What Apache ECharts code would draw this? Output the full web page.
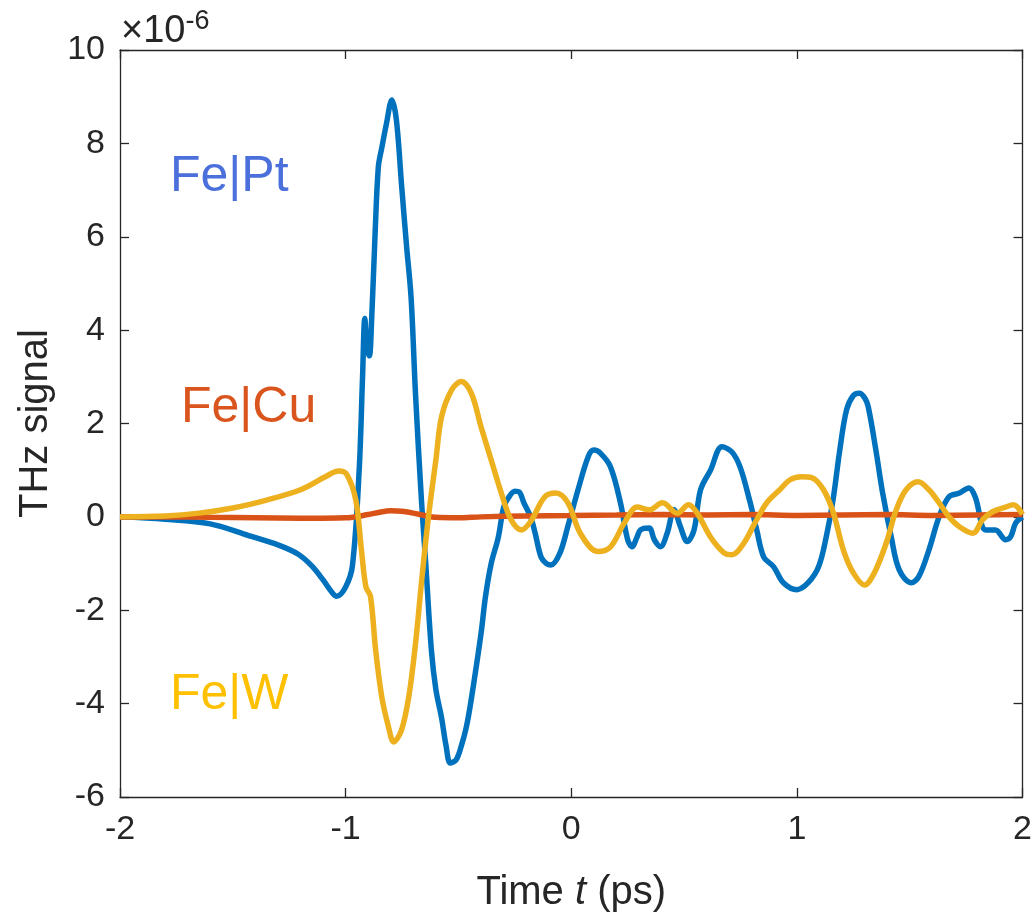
<!DOCTYPE html>
<html>
<head>
<meta charset="utf-8">
<script src="https://cdn.jsdelivr.net/npm/echarts@6/dist/echarts.min.js"></script>
<style>
  html, body { margin: 0; padding: 0; background: #fff; }
  #main { width: 1035px; height: 921px; }
</style>
</head>
<body>
<div id="main"></div>
<script>
// Fe|Pt (blue)
var ptTime = [-2.0, -1.8, -1.6, -1.43, -1.3, -1.21, -1.15, -1.1, -1.06, -1.04, -1.0, -0.97, -0.94, -0.925, -0.915, -0.905, -0.895, -0.885, -0.87, -0.855, -0.84, -0.82, -0.795, -0.775, -0.752, -0.73, -0.71, -0.69, -0.664, -0.645, -0.62, -0.6, -0.575, -0.555, -0.536, -0.51, -0.487, -0.465, -0.443, -0.4, -0.38, -0.355, -0.324, -0.3, -0.28, -0.25, -0.23, -0.21, -0.18, -0.16, -0.134, -0.11, -0.09, -0.05, -0.015, 0.03, 0.075, 0.1, 0.13, 0.174, 0.218, 0.25, 0.27, 0.29, 0.307, 0.345, 0.368, 0.395, 0.425, 0.455, 0.483, 0.514, 0.544, 0.573, 0.617, 0.668, 0.712, 0.748, 0.79, 0.822, 0.853, 0.897, 0.94, 1.0, 1.05, 1.096, 1.13, 1.16, 1.19, 1.22, 1.25, 1.277, 1.3, 1.316, 1.35, 1.38, 1.418, 1.453, 1.506, 1.54, 1.585, 1.63, 1.674, 1.72, 1.763, 1.79, 1.837, 1.88, 1.925, 1.947, 1.97, 2.0];
var ptSignal = [0, -0.05, -0.15, -0.4, -0.6, -0.8, -1.05, -1.35, -1.62, -1.7, -1.5, -1.05, 1.0, 3.0, 4.25, 3.6, 3.45, 4.2, 6.0, 7.5, 7.9, 8.4, 8.93, 8.5, 7.1, 5.8, 4.7, 2.6, 0.36, -1.0, -2.85, -3.7, -4.3, -4.9, -5.27, -5.2, -4.9, -4.5, -3.9, -2.5, -1.7, -1.0, -0.45, 0.2, 0.4, 0.55, 0.53, 0.3, 0.0, -0.35, -0.86, -1.0, -1.03, -0.77, -0.2, 0.58, 1.29, 1.43, 1.36, 1.07, 0.3, -0.49, -0.64, -0.45, -0.28, -0.24, -0.49, -0.64, -0.35, 0.15, -0.2, -0.53, -0.28, 0.58, 1.0, 1.5, 1.39, 1.07, 0.36, -0.28, -0.86, -1.07, -1.41, -1.56, -1.41, -1.07, -0.43, 0.36, 1.43, 2.29, 2.6, 2.65, 2.55, 2.36, 1.43, 0.51, -0.43, -1.13, -1.41, -1.28, -0.71, 0.0, 0.43, 0.51, 0.62, 0.43, -0.28, -0.28, -0.49, -0.43, -0.13, 0.0];

// Fe|Cu (orange)
var cuTime = [-2, -1.8, -1.6, -1.4, -1.2, -1.0, -0.9, -0.85, -0.8, -0.75, -0.7, -0.65, -0.6, -0.5, -0.4, -0.2, 0, 0.2, 0.4, 0.6, 0.8, 1.0, 1.2, 1.4, 1.6, 1.8, 2.0];
var cuSignal = [0, 0.0, -0.01, -0.02, -0.03, -0.02, 0.05, 0.1, 0.13, 0.12, 0.08, 0.03, -0.01, -0.02, 0.0, 0.02, 0.03, 0.04, 0.05, 0.04, 0.05, 0.03, 0.04, 0.05, 0.03, 0.04, 0.05];

// Fe|W (yellow)
var wTime = [-2.0, -1.8, -1.65, -1.5, -1.35, -1.2, -1.09, -1.03, -0.994, -0.955, -0.93, -0.91, -0.89, -0.867, -0.84, -0.81, -0.787, -0.752, -0.72, -0.69, -0.664, -0.633, -0.6, -0.575, -0.53, -0.487, -0.443, -0.4, -0.355, -0.31, -0.267, -0.22, -0.18, -0.117, -0.068, -0.015, 0.04, 0.117, 0.174, 0.235, 0.293, 0.345, 0.404, 0.47, 0.52, 0.558, 0.617, 0.677, 0.712, 0.765, 0.814, 0.866, 0.924, 0.968, 1.02, 1.065, 1.118, 1.162, 1.206, 1.25, 1.3, 1.343, 1.396, 1.44, 1.484, 1.537, 1.585, 1.63, 1.674, 1.72, 1.78, 1.823, 1.867, 1.925, 1.96, 2.0];
var wSignal = [0, 0.02, 0.08, 0.19, 0.36, 0.58, 0.86, 0.98, 0.9, 0.36, -0.71, -1.5, -1.7, -2.85, -3.85, -4.5, -4.82, -4.56, -3.85, -2.7, -1.41, 0, 1.22, 2.14, 2.72, 2.9, 2.65, 1.93, 1.22, 0.51, -0.06, -0.28, -0.1, 0.43, 0.51, 0.3, -0.35, -0.74, -0.64, -0.13, 0.21, 0.15, 0.3, 0.08, 0.26, 0.08, -0.43, -0.77, -0.81, -0.56, -0.13, 0.3, 0.58, 0.79, 0.86, 0.84, 0.58, 0.08, -0.71, -1.2, -1.46, -1.2, -0.56, 0.15, 0.58, 0.75, 0.58, 0.3, 0, -0.21, -0.35, -0.06, 0.11, 0.21, 0.26, 0.05];

function pairs(xs, ys) {
  var out = [];
  for (var i = 0; i < xs.length; i++) out.push([xs[i], ys[i]]);
  return out;
}

var font = 'Arial, "Liberation Sans", sans-serif';
var axisColor = '#262626';

var myChart = echarts.init(document.getElementById('main'));

var boxAxis = {
  axisLine: { show: true, onZero: false, lineStyle: { color: axisColor, width: 1.3 } },
  axisTick: { show: true, inside: true, length: 9, lineStyle: { color: axisColor, width: 1.3 } },
  splitLine: { show: false }
};

var option = {
  animation: false,
  grid: { left: 120, right: 8, top: 50, bottom: 124 },
  xAxis: [
    Object.assign({
      type: 'value', min: -2, max: 2, interval: 1, position: 'bottom',
      axisLabel: { color: axisColor, fontSize: 34, fontFamily: font, margin: 16 },
      name: 'Time {i|t} (ps)', nameLocation: 'middle', nameGap: 76,
      nameTextStyle: {
        color: axisColor, fontSize: 40, fontFamily: font,
        rich: { i: { fontStyle: 'italic', fontSize: 40, fontFamily: font, color: axisColor } }
      }
    }, boxAxis),
    Object.assign({
      type: 'value', min: -2, max: 2, interval: 1, position: 'top',
      axisLabel: { show: false }
    }, boxAxis)
  ],
  yAxis: [
    Object.assign({
      type: 'value', min: -6, max: 10, interval: 2, position: 'left',
      axisLabel: { color: axisColor, fontSize: 34, fontFamily: font, margin: 15 },
      name: 'THz signal', nameLocation: 'middle', nameGap: 64,
      nameTextStyle: { color: axisColor, fontSize: 40, fontFamily: font }
    }, boxAxis),
    Object.assign({
      type: 'value', min: -6, max: 10, interval: 2, position: 'right',
      axisLabel: { show: false }
    }, boxAxis)
  ],
  graphic: [
    {
      type: 'text', left: 121, top: 8,
      style: {
        text: '×10{s|-6}', fill: axisColor, font: '38px ' + font,
        rich: { s: { fontSize: 27, fontFamily: font, fill: axisColor, verticalAlign: 'top', padding: [0, 0, 20, 0] } }
      }
    },
    { type: 'text', left: 170, top: 152, style: { text: 'Fe|Pt', fill: '#4B6FDB', font: '50px ' + font } },
    { type: 'text', left: 181, top: 383, style: { text: 'Fe|Cu', fill: '#DA541D', font: '50px ' + font } },
    { type: 'text', left: 170, top: 670, style: { text: 'Fe|W', fill: '#FFC000', font: '50px ' + font } }
  ],
  series: [
    {
      name: 'Fe|Pt', type: 'line', data: pairs(ptTime, ptSignal), smooth: 0.35,
      showSymbol: false, lineStyle: { color: '#0072BD', width: 5.5 }, z: 2
    },
    {
      name: 'Fe|Cu', type: 'line', data: pairs(cuTime, cuSignal), smooth: 0.3,
      showSymbol: false, lineStyle: { color: '#D95319', width: 5.5 }, z: 3
    },
    {
      name: 'Fe|W', type: 'line', data: pairs(wTime, wSignal), smooth: 0.35,
      showSymbol: false, lineStyle: { color: '#EDB120', width: 5.5 }, z: 4
    }
  ]
};

myChart.setOption(option);
</script>
</body>
</html>
